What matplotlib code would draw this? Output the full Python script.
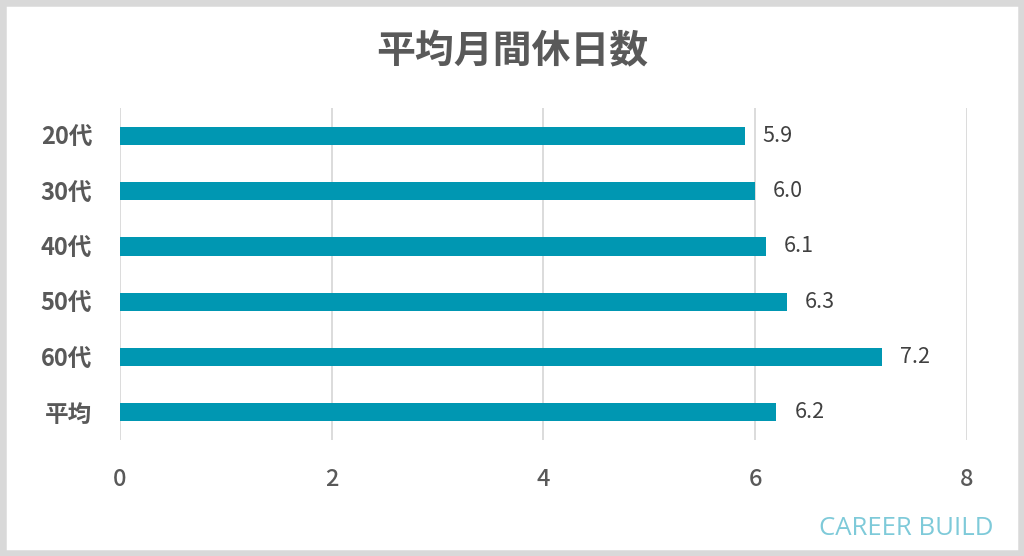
import matplotlib
matplotlib.use('Agg')
import matplotlib.pyplot as plt
from matplotlib.patches import Rectangle

plt.rcParams['font.family'] = ['Noto Sans CJK JP', 'DejaVu Sans']

categories = ['20代', '30代', '40代', '50代', '60代', '平均']
values = [5.9, 6.0, 6.1, 6.3, 7.2, 6.2]
xticks = [0, 2, 4, 6, 8]

bar_color = '#0097B2'
grid_color = '#d9d9d9'
text_color = '#595959'

fig = plt.figure(figsize=(10.24, 5.56), dpi=100)
ax = fig.add_axes([0.1172, 0.2086, 0.8271, 0.597])

pos = list(range(len(categories)))
ax.barh(pos, values, height=0.33, color=bar_color, zorder=3)
for p, v in zip(pos, values):
    ax.text(v + 0.17, p, f'{v:.1f}', va='center', ha='left',
            fontsize=15.5, color='#404040')

ax.set_xlim(0, 8)
ax.set_ylim(5.5, -0.5)
ax.set_yticks(pos)
ax.set_yticklabels(categories, fontsize=17, color=text_color, fontweight='bold')
ax.set_xticks(xticks)
ax.set_xticklabels([str(t) for t in xticks], fontsize=17, color=text_color,
                   fontweight='medium')
ax.tick_params(axis='both', length=0)
ax.tick_params(axis='y', pad=20)
ax.tick_params(axis='x', pad=20)
ax.grid(axis='x', color=grid_color, linewidth=1.3, zorder=0)
for s in ax.spines.values():
    s.set_visible(False)

fig.text(0.5, 0.908, '平均月間休日数', ha='center', va='center',
         fontsize=28, fontweight='bold', color=text_color)
fig.text(0.97, 0.05, 'CAREER BUILD', ha='right', va='center',
         fontsize=18.5, color='#7ecad9', family=['Open Sans', 'DejaVu Sans'])

# gray frame around the picture
fig.patches.append(Rectangle((0, 0), 1, 1, transform=fig.transFigure,
                             fill=False, edgecolor='#d9d9d9', linewidth=9))

fig.savefig('out.png', dpi=100)
